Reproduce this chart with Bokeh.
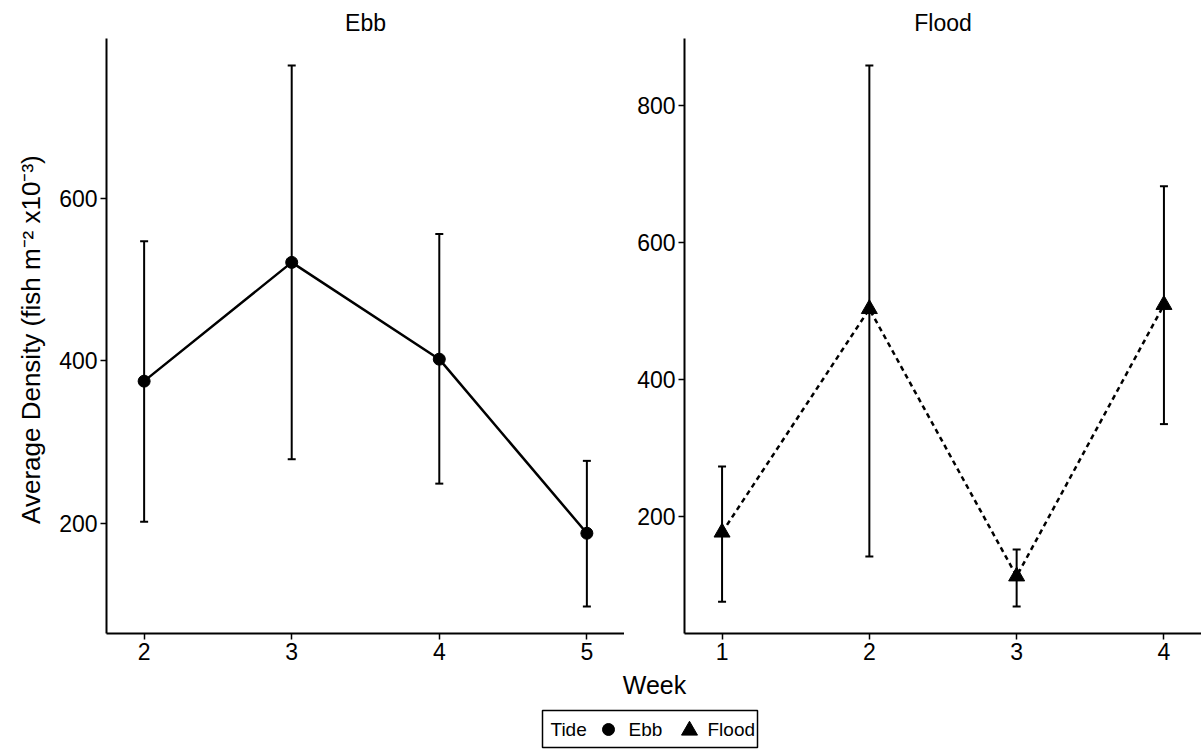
from bokeh.plotting import figure
from bokeh.models import (ColumnDataSource, Range1d, FixedTicker, Whisker, TeeHead)
from bokeh.layouts import column, row
from bokeh.core.properties import value
from bokeh.embed import file_html
from bokeh.resources import INLINE

# ---- data ----
ebb_week = [2, 3, 4, 5]
ebb_mean = [375, 521, 402, 188]
ebb_lower = [202, 279, 249, 98]
ebb_upper = [547, 763, 556, 277]

flood_week = [1, 2, 3, 4]
flood_mean = [177, 503, 113, 509]
flood_lower = [76, 142, 69, 335]
flood_upper = [273, 858, 152, 682]

ebb_yticks = [200, 400, 600]
flood_yticks = [200, 400, 600, 800]

panel_titles = ["Ebb", "Flood"]
x_title = "Week"
y_title = "Average Density (fish m\u207b\u00b2  x10\u207b\u00b3)"
legend_title = "Tide"
legend_labels = ["Ebb", "Flood"]

FONT = "Liberation Sans"


def make_panel(weeks, mean, lower, upper, yticks, title, marker, dash,
               border_left, frame_w, ylabel=None):
    lo, hi = min(lower), max(upper)
    ypad = 0.05 * (hi - lo)
    xpad = 0.085 * (max(weeks) - min(weeks))
    p = figure(frame_width=frame_w, frame_height=595,
               x_range=Range1d(min(weeks) - xpad, max(weeks) + xpad),
               y_range=Range1d(lo - ypad, hi + ypad),
               min_border_left=border_left, min_border_right=0,
               min_border_top=38, min_border_bottom=36,
               output_backend="svg", toolbar_location=None,
               title=title)
    p.title.align = "center"
    p.title.text_font = FONT
    p.title.text_font_size = "23px"
    p.title.text_font_style = "normal"
    p.title.text_color = "black"
    p.title.standoff = 6
    p.outline_line_color = None
    p.xgrid.visible = False
    p.ygrid.visible = False
    p.background_fill_color = "white"
    p.border_fill_color = "white"

    for ax in (p.xaxis[0], p.yaxis[0]):
        ax.axis_line_width = 2
        ax.axis_line_color = "black"
        ax.major_tick_line_color = "black"
        ax.major_tick_line_width = 1.5
        ax.major_tick_out = 6
        ax.major_tick_in = 0
        ax.minor_tick_line_color = None
        ax.major_label_text_font = FONT
        ax.major_label_text_font_size = "23px"
        ax.major_label_text_color = "black"
        ax.major_label_standoff = 3
    p.xaxis[0].ticker = FixedTicker(ticks=weeks)
    p.yaxis[0].ticker = FixedTicker(ticks=yticks)
    if ylabel:
        p.yaxis[0].axis_label = ylabel
        p.yaxis[0].axis_label_text_font = FONT
        p.yaxis[0].axis_label_text_font_size = "26px"
        p.yaxis[0].axis_label_text_font_style = "normal"
        p.yaxis[0].axis_label_text_color = "black"
        p.yaxis[0].axis_label_standoff = 10

    src = ColumnDataSource(dict(week=weeks, mean=mean, lower=lower, upper=upper))
    p.line("week", "mean", source=src, line_color="black", line_width=2.5,
           line_dash=dash)
    w = Whisker(source=src, base="week", lower="lower", upper="upper",
                line_color="black", line_width=2,
                upper_head=TeeHead(size=8, line_width=2, line_color="black"),
                lower_head=TeeHead(size=8, line_width=2, line_color="black"))
    p.add_layout(w)
    size = 12 if marker == "circle" else 16
    p.scatter("week", "mean", source=src, marker=marker, size=size,
              fill_color="black", line_color="black")
    return p


left = make_panel(ebb_week, ebb_mean, ebb_lower, ebb_upper, ebb_yticks,
                  panel_titles[0], "circle", "solid", 106, 518, ylabel=y_title)
right = make_panel(flood_week, flood_mean, flood_lower, flood_upper, flood_yticks,
                   panel_titles[1], "triangle", "5 4", 60, 517)

# ---- bottom strip: x title + legend ----
bot = figure(width=1201, height=80, x_range=Range1d(0, 1201), y_range=Range1d(80, 0),
             min_border=0, output_backend="svg", toolbar_location=None)
bot.axis.visible = False
bot.grid.visible = False
bot.outline_line_color = None
bot.text(x=[654], y=[15], text=[x_title], text_font=value(FONT),
         text_font_size="25px", text_align="center", text_baseline="middle",
         text_color="black")
# legend box
bot.quad(left=[542], right=[757], top=[41], bottom=[78], fill_color="white",
         line_color="black", line_width=1.5)
bot.text(x=[550], y=[60], text=[legend_title], text_font=value(FONT),
         text_font_size="19px", text_align="left", text_baseline="middle",
         text_color="black")
bot.scatter(x=[608], y=[60], marker="circle", size=12, fill_color="black",
            line_color="black")
bot.text(x=[628], y=[60], text=[legend_labels[0]], text_font=value(FONT),
         text_font_size="19px", text_align="left", text_baseline="middle",
         text_color="black")
bot.scatter(x=[689], y=[61], marker="triangle", size=16, fill_color="black",
            line_color="black")
bot.text(x=[707], y=[60], text=[legend_labels[1]], text_font=value(FONT),
         text_font_size="19px", text_align="left", text_baseline="middle",
         text_color="black")

layout = column(row(left, right, spacing=0), bot, spacing=0)
open("out.html", "w").write(file_html(layout, INLINE))
